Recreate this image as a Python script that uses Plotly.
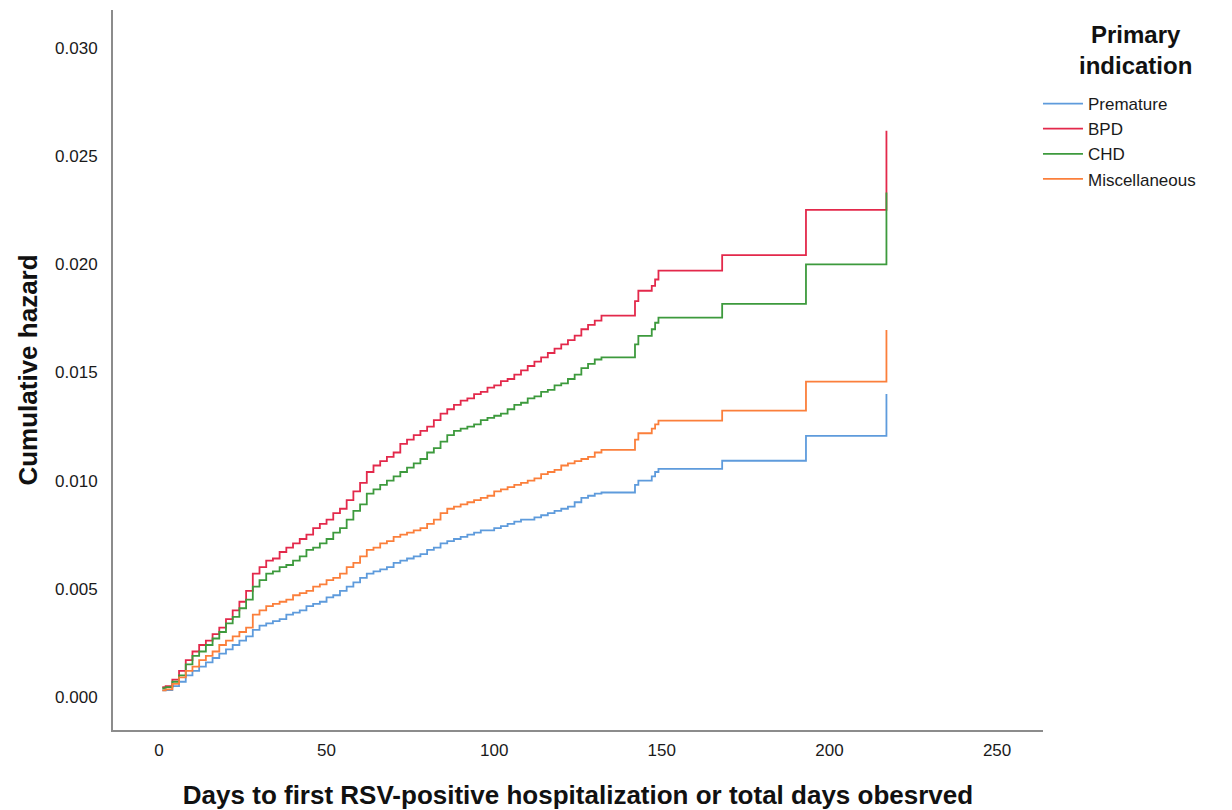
import plotly.graph_objects as go

# ---- data (days, cumulative hazard) ----
days = [1, 2, 4, 6, 8, 10, 12, 14, 16, 18,
        20, 22, 24, 26, 28, 30, 32, 34, 36, 38,
        40, 42, 44, 46, 48, 50, 52, 54, 56, 58,
        60, 62, 64, 66, 68, 70, 72, 74, 76, 78,
        80, 82, 84, 86, 88, 90, 92, 94, 96, 98,
        100, 102, 104, 106, 108, 110, 112, 114, 116, 118,
        120, 122, 124, 126, 128, 130, 132,
        142, 143, 146, 147, 148, 149, 168, 193, 217, 217]

premature = [0.0003, 0.00032, 0.0005, 0.0007, 0.0010, 0.0012, 0.0014, 0.0016, 0.0018, 0.0020,
             0.0022, 0.0024, 0.0026, 0.0028, 0.0031, 0.0033, 0.0034, 0.0035, 0.0036, 0.0038,
             0.0039, 0.0040, 0.0042, 0.0043, 0.0044, 0.0046, 0.0047, 0.0049, 0.0051, 0.0053,
             0.0055, 0.0057, 0.0058, 0.0059, 0.0060, 0.0062, 0.0063, 0.0064, 0.0065, 0.0066,
             0.0068, 0.0069, 0.0071, 0.0072, 0.0073, 0.0074, 0.0075, 0.0076, 0.0077, 0.0077,
             0.0078, 0.0079, 0.0080, 0.0081, 0.0082, 0.0082, 0.0083, 0.0084, 0.0085, 0.0086,
             0.0087, 0.0088, 0.0090, 0.0092, 0.0093, 0.0094, 0.00945,
             0.0098, 0.0100, 0.0100, 0.0102, 0.0104, 0.01054, 0.01092, 0.01207, 0.01207, 0.0140]

bpd = [0.00045, 0.0005, 0.0008, 0.0012, 0.0017, 0.0021, 0.0024, 0.0026, 0.0029, 0.0032,
       0.0036, 0.0040, 0.0044, 0.0049, 0.0057, 0.0060, 0.0063, 0.0064, 0.0067, 0.0069,
       0.0071, 0.0073, 0.0075, 0.0078, 0.0080, 0.0082, 0.0085, 0.0087, 0.0091, 0.0095,
       0.0099, 0.0104, 0.0107, 0.0109, 0.0111, 0.0113, 0.0117, 0.0119, 0.0121, 0.0123,
       0.0125, 0.0128, 0.0131, 0.0133, 0.0135, 0.0137, 0.0138, 0.0140, 0.0141, 0.0143,
       0.0144, 0.0146, 0.0147, 0.0149, 0.0151, 0.0153, 0.0155, 0.0157, 0.0159, 0.0161,
       0.0163, 0.0165, 0.0167, 0.0170, 0.0172, 0.0174, 0.01763,
       0.0183, 0.01878, 0.01878, 0.0190, 0.0193, 0.01971, 0.02043, 0.02252, 0.02252, 0.02618]

chd = [0.0004, 0.00045, 0.0007, 0.0010, 0.0015, 0.0019, 0.0021, 0.0024, 0.0027, 0.0030,
       0.0034, 0.0037, 0.0041, 0.0045, 0.0051, 0.0054, 0.0057, 0.0058, 0.0060, 0.0061,
       0.0063, 0.0065, 0.0068, 0.0069, 0.0071, 0.0073, 0.0076, 0.0078, 0.0082, 0.0086,
       0.0089, 0.0094, 0.0096, 0.0098, 0.0100, 0.0102, 0.0104, 0.0106, 0.0108, 0.0110,
       0.0113, 0.0115, 0.0118, 0.0121, 0.0123, 0.0124, 0.0125, 0.0126, 0.0128, 0.0129,
       0.0130, 0.0131, 0.0133, 0.0135, 0.0136, 0.0138, 0.0139, 0.0141, 0.0142, 0.0144,
       0.0145, 0.0147, 0.0149, 0.0152, 0.0154, 0.0156, 0.0157,
       0.0163, 0.01669, 0.01669, 0.0170, 0.0173, 0.01754, 0.01817, 0.0200, 0.0200, 0.02332]

misc = [0.0003, 0.00035, 0.0006, 0.0009, 0.0012, 0.0014, 0.0017, 0.0019, 0.0021, 0.0024,
        0.0026, 0.0028, 0.0030, 0.0032, 0.0038, 0.0040, 0.0042, 0.0043, 0.0044, 0.0045,
        0.0047, 0.0048, 0.0049, 0.0051, 0.0052, 0.0054, 0.0055, 0.0057, 0.0060, 0.0062,
        0.0065, 0.0068, 0.0069, 0.0071, 0.0072, 0.0074, 0.0075, 0.0076, 0.0077, 0.0078,
        0.0080, 0.0082, 0.0085, 0.0087, 0.0088, 0.0089, 0.0090, 0.0091, 0.0092, 0.0093,
        0.0095, 0.0096, 0.0097, 0.0098, 0.0099, 0.0100, 0.0101, 0.0103, 0.0104, 0.0105,
        0.0107, 0.0108, 0.0109, 0.0110, 0.0111, 0.0113, 0.01142,
        0.0119, 0.01219, 0.01219, 0.0124, 0.0126, 0.01277, 0.01324, 0.01458, 0.01458, 0.01697]

series_names = ["Premature", "BPD", "CHD", "Miscellaneous"]
series_values = [premature, bpd, chd, misc]
colors = ["#5e9bdc", "#e3294b", "#3d9a3d", "#fb7f3b"]

x_ticks = [0, 50, 100, 150, 200, 250]
y_ticks = [0.000, 0.005, 0.010, 0.015, 0.020, 0.025, 0.030]
legend_title = "Primary<br>indication"

fig = go.Figure()
for name, vals, col in zip(series_names, series_values, colors):
    fig.add_trace(go.Scatter(
        x=days, y=vals, name=name, mode="lines",
        line=dict(color=col, width=1.8, shape="hv"),
    ))

font_family = "Liberation Sans, Arial, sans-serif"
axis_common = dict(
    showgrid=False, zeroline=False, showline=True, linecolor="#8c8c8c", linewidth=2,
    ticks="outside", tickcolor="rgba(0,0,0,0)", automargin=False,
    tickfont=dict(size=17, color="#1a1a1a"),
)
fig.update_layout(
    width=1232, height=810,
    margin=dict(l=113, r=189, t=10, b=80, autoexpand=False),
    paper_bgcolor="white", plot_bgcolor="white",
    font=dict(family=font_family, color="#1a1a1a", size=17),
    xaxis=dict(
        range=[-13.7, 263.7], tickvals=x_ticks, ticktext=[str(v) for v in x_ticks],
        ticklen=4,
        title=dict(text="<b>Days to first RSV-positive hospitalization or total days obesrved</b>",
                   font=dict(size=26, color="#111111"), standoff=30),
        **axis_common,
    ),
    yaxis=dict(
        range=[-0.00153, 0.03176], tickvals=y_ticks, ticktext=[f"{v:.3f}" for v in y_ticks],
        ticklen=10,
        title=dict(text="<b>Cumulative hazard</b>", font=dict(size=26, color="#111111"), standoff=10),
        **axis_common,
    ),
    legend=dict(
        x=0.9946, xanchor="left", y=0.8944, yanchor="top",
        font=dict(size=17, color="#1a1a1a"),
        bgcolor="rgba(0,0,0,0)", itemwidth=40, tracegroupgap=0,
    ),
)

fig.add_annotation(
    text=f"<b>{legend_title}</b>", xref="paper", yref="paper", x=1.099, y=0.9444,
    xanchor="center", yanchor="middle", showarrow=False, align="center",
    font=dict(size=24, color="#111111", family=font_family),
)

fig.write_html("out.html")
